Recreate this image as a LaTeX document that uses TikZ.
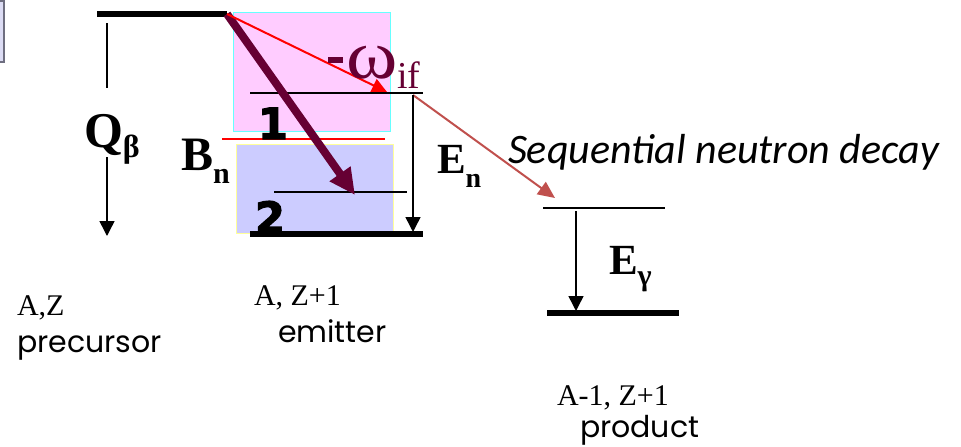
\documentclass[tikz,border=0pt]{standalone}
\usepackage{graphicx}
\usepackage{fontspec}
\setmainfont{Liberation Serif}
\newfontfamily\calibrifont{Carlito}
\newfontfamily\comicfont{Poppins}
\newfontfamily\digitfont[FakeBold=3]{DejaVu Sans}
\usetikzlibrary{arrows.meta}
\definecolor{maroon600}{HTML}{660033}
\definecolor{brick500}{HTML}{C0504D}
\definecolor{pink200}{HTML}{FFCCFF}
\definecolor{cyan300}{HTML}{66FFFF}
\definecolor{indigo200}{HTML}{CCCCFF}
\definecolor{yellow200}{HTML}{FFFF99}
\definecolor{lav100}{HTML}{DCDCF4}
\definecolor{gray500}{HTML}{6E6E80}
\tikzset{
  every node/.style={inner sep=0pt, outer sep=0pt},
  ground/.style={line width=6pt, black},
  level/.style={line width=1.4pt, black},
  gammaarrow/.style={
    -{Triangle[length=15pt,width=15pt]},
    line width=1.5pt, black
  },
  window/.style={
    rectangle, line width=1pt,
    anchor=north west
  },
  txt/.style={anchor=base west},
}
\begin{document}
\begin{tikzpicture}[x=1pt,y=-1pt]
  \clip (0,0) rectangle (961,447);
  % box cut by the left edge
  \draw[fill=lav100, draw=gray500, line width=1.5pt] (-30,1) rectangle (4,62);
  % level windows 1 and 2 of the emitter
  \node[window, fill=pink200, draw=cyan300, minimum width=157pt, minimum height=119pt] (win1) at (233,12) {};
  \node[window, fill=indigo200, draw=yellow200, minimum width=157pt, minimum height=89pt] (win2) at (236,144) {};
  % levels
  \coordinate (preL) at (97,14);
  \coordinate (preR) at (227,14);
  \coordinate (exL) at (250,93);
  \coordinate (exR) at (423,93);
  \coordinate (bnL) at (222,139);
  \coordinate (bnR) at (385,139);
  \coordinate (lowL) at (274,192);
  \coordinate (lowR) at (407,192);
  \coordinate (gsL) at (250,234);
  \coordinate (gsR) at (423,234);
  \coordinate (prodTopL) at (543,208);
  \coordinate (prodTopR) at (665,208);
  \coordinate (prodL) at (547,313);
  \coordinate (prodR) at (679,313);
  \draw[ground] (preL) -- (preR);
  \draw[level] (exL) -- (exR);
  \draw[red, line width=1.4pt] (bnL) -- (bnR);
  \draw[level] (lowL) -- (lowR);
  \draw[ground] (gsL) -- (gsR);
  \draw[level] (prodTopL) -- (prodTopR);
  \draw[ground] (prodL) -- (prodR);
  % Q beta
  \coordinate (qTop) at (107,23);
  \coordinate (qGapA) at (107,88);
  \coordinate (qGapB) at (107,157);
  \coordinate (qBot) at (107,236);
  \draw[line width=1.5pt] (qTop) -- (qGapA);
  \draw[gammaarrow] (qGapB) -- (qBot);
  \node[txt] (qlbl) at (84,147) {\fontsize{50}{50}\selectfont\bfseries Q\raisebox{-10pt}{\fontsize{32}{32}\selectfont β}};
  % transitions
  \coordinate (betaEnd) at (355,195);
  \coordinate (omegaEnd) at (387,92);
  \coordinate (nStart) at (413,95);
  \coordinate (nEnd) at (555,198);
  \draw[maroon600, line width=8pt, -{Triangle[length=26pt,width=24pt]}] (preR) -- (betaEnd);
  \draw[red, line width=2pt, -{Triangle[length=15pt,width=14pt]}] (preR) -- (omegaEnd);
  \draw[brick500, line width=2pt, -{Triangle[length=17pt,width=15pt]}] (nStart) -- (nEnd);
  % E_n and E_gamma
  \coordinate (enTop) at (413,95);
  \coordinate (enBot) at (413,232);
  \coordinate (egTop) at (576,211);
  \coordinate (egBot) at (576,311);
  \draw[gammaarrow] (enTop) -- (enBot);
  \draw[gammaarrow] (egTop) -- (egBot);
  % labels
  \node[txt, text=maroon600] (omegalbl) at (328,78) {\rule[15pt]{15pt}{6pt}\hspace{3pt}\scalebox{1.3}[1.15]{\fontsize{60}{60}\selectfont ω}\raisebox{-10pt}{\fontsize{38}{38}\selectfont if}};
  \node[txt] (one) at (258,139) {\digitfont\bfseries\fontsize{43}{43}\selectfont 1};
  \node[txt] (two) at (255,233) {\digitfont\bfseries\fontsize{43}{43}\selectfont 2};
  \node[txt] (bnlbl) at (181,170) {\fontsize{48}{48}\selectfont\bfseries B\raisebox{-13pt}{\fontsize{30}{30}\selectfont n}};
  \node[txt] (enlbl) at (437,173) {\fontsize{43}{43}\selectfont\bfseries E\raisebox{-14pt}{\fontsize{28}{28}\selectfont n}};
  \node[txt] (eglbl) at (609,274) {\fontsize{43}{43}\selectfont\bfseries E\raisebox{-11pt}{\fontsize{30}{30}\selectfont γ}};
  \node[txt] (seqlbl) at (508,163) {\calibrifont\itshape\fontsize{42}{42}\selectfont Sequential neutron decay};
  % nuclei
  \node[txt] (azlbl) at (17,315) {\fontsize{30}{30}\selectfont A,Z};
  \node[txt] (precursor) at (17,352) {\comicfont\fontsize{30}{30}\selectfont precursor};
  \node[txt] (az1lbl) at (254,305) {\fontsize{30}{30}\selectfont A, Z+1};
  \node[txt] (emitter) at (278,342) {\comicfont\fontsize{30}{30}\selectfont emitter};
  \node[txt] (az2lbl) at (557,405) {\fontsize{30}{30}\selectfont A-1, Z+1};
  \node[txt] (product) at (580,437) {\comicfont\fontsize{30}{30}\selectfont product};
\end{tikzpicture}
\end{document}
